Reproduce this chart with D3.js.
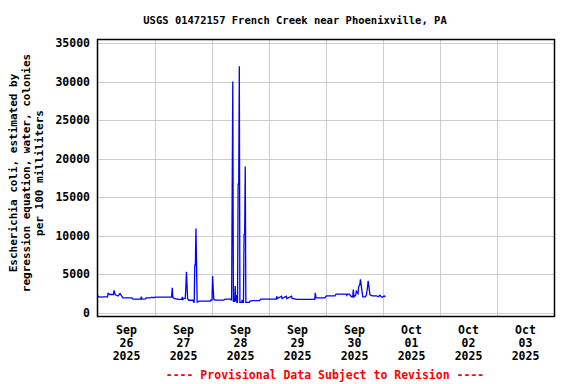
<!DOCTYPE html>
<html><head><meta charset="utf-8">
<script src="https://cdn.jsdelivr.net/npm/d3@7"></script>
<style>html,body{margin:0;padding:0;background:#fff;}svg{display:block;}</style>
</head><body>
<svg id="chart" width="576" height="384"></svg>
<script>
const titleText = "USGS 01472157 French Creek near Phoenixville, PA";
const yLabelLines = ["Escherichia coli, estimated by", "regression equation, water, colonies", "per 100 milliliters"];
const footerText = "---- Provisional Data Subject to Revision ----";
const yTicks = [0, 5000, 10000, 15000, 20000, 25000, 30000, 35000];
const dayTicks = ["2025-09-26","2025-09-27","2025-09-28","2025-09-29","2025-09-30","2025-10-01","2025-10-02","2025-10-03"];
const tickMonths = ["Sep","Sep","Sep","Sep","Sep","Oct","Oct","Oct"];
const tickDays = ["26","27","28","29","30","01","02","03"];
const tickYears = ["2025","2025","2025","2025","2025","2025","2025","2025"];

const times = [
"09-26 00:00","09-26 00:30","09-26 02:30","09-26 04:00","09-26 04:15","09-26 05:00","09-26 06:30","09-26 06:45","09-26 07:15","09-26 08:30",
"09-26 09:15","09-26 10:00","09-26 10:30","09-26 14:15","09-26 14:45","09-26 18:00","09-26 18:15","09-26 18:30","09-26 20:00","09-26 20:15",
"09-26 22:00","09-26 22:45","09-26 23:15","09-27 00:00","09-27 07:00","09-27 07:15","09-27 07:30","09-27 08:00","09-27 09:15","09-27 09:45",
"09-27 11:15","09-27 11:30","09-27 11:45","09-27 12:15","09-27 12:45","09-27 13:00","09-27 13:15","09-27 13:30","09-27 13:45","09-27 14:15",
"09-27 16:00","09-27 16:15","09-27 16:30","09-27 16:45","09-27 17:00","09-27 17:15","09-27 17:30","09-27 17:45","09-27 18:00","09-27 18:30",
"09-27 23:15","09-27 23:30","09-28 00:00","09-28 00:15","09-28 00:30","09-28 00:45","09-28 01:15","09-28 05:00","09-28 05:30","09-28 07:45",
"09-28 08:00","09-28 08:15","09-28 08:30","09-28 08:45","09-28 09:00","09-28 09:30","09-28 09:45","09-28 10:00","09-28 10:15","09-28 10:30",
"09-28 10:45","09-28 11:00","09-28 11:15","09-28 11:30","09-28 11:45","09-28 12:30","09-28 12:45","09-28 13:00","09-28 13:15","09-28 13:30",
"09-28 13:45","09-28 14:00","09-28 14:15","09-28 15:45","09-28 16:00","09-28 17:00","09-28 20:00","09-28 20:30","09-29 03:00","09-29 03:15",
"09-29 03:30","09-29 05:15","09-29 05:30","09-29 07:15","09-29 07:30","09-29 09:30","09-29 09:45","09-29 11:45","09-29 19:15","09-29 19:30",
"09-29 19:45","09-29 23:30","09-30 00:15","09-30 03:45","09-30 04:15","09-30 08:30","09-30 08:45","09-30 09:00","09-30 09:45","09-30 10:45",
"09-30 11:15","09-30 11:30","09-30 11:45","09-30 12:30","09-30 12:45","09-30 13:30","09-30 13:45","09-30 14:15","09-30 14:30","09-30 15:15",
"09-30 15:30","09-30 16:30","09-30 17:00","09-30 17:30","09-30 17:45","09-30 18:30","09-30 19:30","09-30 21:15","09-30 22:00","09-30 22:45",
"09-30 23:15","09-30 23:45","10-01 00:30","10-01 01:00"
];
const values = [
2230,2050,2100,2100,2540,2400,2400,2930,2350,2200,
2540,2200,1970,1970,1800,1800,2130,1800,1830,1970,
1970,2060,1970,2060,2060,3260,2060,1900,1800,1760,
1760,2100,1760,1900,1900,3480,5340,3480,1840,1650,
1650,1400,1400,6200,6200,10950,6200,1400,1400,1540,
1540,1670,1670,4780,3190,1800,1670,1670,1800,1800,
1700,1700,15900,30000,1500,1500,3500,1500,2300,1370,
1370,16700,16700,32000,1370,1370,1700,1370,1370,10200,
10200,19000,1370,1370,1540,1600,1600,1800,1800,2170,
1880,2170,1880,2170,1880,2170,1880,1760,1760,2620,
1970,1970,2230,2230,2450,2450,2300,2450,2450,2100,
2100,3050,2100,2300,2830,2500,3400,3700,4350,2600,
2100,2100,2300,3400,4170,2370,2230,2230,2100,2300,
2100,2030,2230,2060
];

const svg = d3.select("#chart");
const FONT = "'DejaVu Sans Mono', 'Liberation Mono', monospace";
const L = 98, R = 554, T = 39, B = 316;

const parseT = d3.utcParse("%Y-%m-%d %H:%M");
const data = times.map((t, i) => ({ t: parseT("2025-" + t), v: values[i] }));

const x = d3.scaleUtc()
  .domain([d3.utcParse("%Y-%m-%d")("2025-09-26"), d3.utcParse("%Y-%m-%d")("2025-10-04")])
  .range([L, R]);
const y = d3.scaleLinear().domain([0, 35000]).range([313, 43]);

const midnights = d3.utcDay.range(x.domain()[0], x.domain()[1]).slice(1);
svg.append("g").selectAll("line").data(midnights).join("line")
  .attr("x1", d => Math.round(x(d)) + 0.5).attr("x2", d => Math.round(x(d)) + 0.5)
  .attr("y1", T).attr("y2", B)
  .attr("stroke", "#cccccc").attr("stroke-width", 1);

svg.append("g").selectAll("line").data(yTicks).join("line")
  .attr("x1", L).attr("x2", R)
  .attr("y1", d => Math.round(y(d)) + 0.5).attr("y2", d => Math.round(y(d)) + 0.5)
  .attr("stroke", "#cccccc").attr("stroke-width", 1);

const line = d3.line().x(d => x(d.t)).y(d => y(d.v));
svg.append("path").datum(data)
  .attr("d", line).attr("fill", "none")
  .attr("stroke", "#0000ff").attr("stroke-width", 1.3);

svg.append("rect").attr("x", L - 0.5).attr("y", T + 0.5).attr("width", R - L + 1).attr("height", B - T)
  .attr("fill", "none").attr("stroke", "#000").attr("stroke-width", 1.5);

svg.append("g").selectAll("text").data(yTicks).join("text")
  .attr("x", 90).attr("y", d => y(d) + 4)
  .attr("text-anchor", "end")
  .attr("font-family", FONT).attr("font-weight", "bold").attr("font-size", "11.5px")
  .text(d => String(d));

const noon = dayTicks.map(s => d3.utcHour.offset(d3.utcParse("%Y-%m-%d")(s), 12));
const xg = svg.append("g");
noon.forEach((d, i) => {
  const cx = x(d);
  [[tickMonths[i], 334], [tickDays[i], 347], [tickYears[i], 360]].forEach(([txt, yy]) => {
    xg.append("text").attr("x", cx).attr("y", yy).attr("text-anchor", "middle")
      .attr("font-family", FONT).attr("font-weight", "bold").attr("font-size", "11.5px")
      .text(txt);
  });
});

svg.append("text").attr("x", 295).attr("y", 24).attr("text-anchor", "middle")
  .attr("font-family", FONT).attr("font-weight", "bold").attr("font-size", "10.5px")
  .text(titleText);

const yl = svg.append("text").attr("transform", "translate(0,173) rotate(-90)")
  .attr("text-anchor", "middle")
  .attr("font-family", FONT).attr("font-weight", "bold").attr("font-size", "11px");
[17, 30, 43].forEach((bx, i) => {
  yl.append("tspan").attr("x", 0).attr("y", bx).text(yLabelLines[i]);
});

svg.append("text").attr("x", 325).attr("y", 379).attr("text-anchor", "middle")
  .attr("font-family", FONT).attr("font-weight", "bold").attr("font-size", "11.5px")
  .attr("fill", "#ff0000")
  .text(footerText);
</script>
</body></html>
